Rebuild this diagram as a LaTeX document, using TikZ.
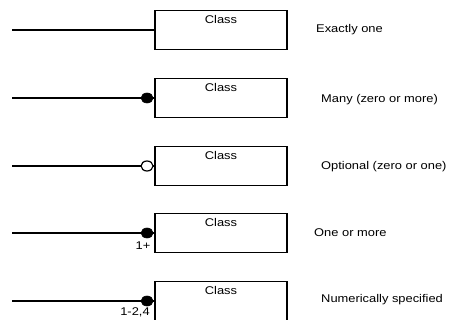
\documentclass[tikz,border=0pt]{standalone}
\usepackage{fontspec}
\setmainfont{Liberation Sans}
\usetikzlibrary{calc,shapes.geometric}
\tikzset{
  clsbox/.style={draw, line width=1.9pt, minimum width=132pt, minimum height=39pt, inner sep=0pt},
  clstxt/.style={inner sep=0pt, font=\fontsize{11.2}{12}\selectfont},
  desc/.style={inner sep=0pt, anchor=west, font=\fontsize{11.2}{12}\selectfont},
  mult/.style={inner sep=0pt, font=\fontsize{11.2}{12}\selectfont},
  conn/.style={line width=1.6pt},
  fdot/.style={ellipse, fill=black, draw=black, line width=0.6pt, minimum width=12pt, minimum height=10pt, inner sep=0pt},
  odot/.style={ellipse, fill=white, draw=black, line width=1.2pt, minimum width=12pt, minimum height=10pt, inner sep=0pt}
}
\newcommand{\wid}[1]{\scalebox{1.15}[1]{#1}}
\begin{document}
\begin{tikzpicture}[x=1pt,y=-1pt]
\useasboundingbox (0,0) rectangle (453,320);
% boxes
\node[clsbox] (b1) at (221,30) {};
\node[clsbox] (b2) at (221,98) {};
\node[clsbox] (b3) at (221,166) {};
\node[clsbox] (b4) at (221,233) {};
\node[clsbox] (b5) at (221,301) {};
\foreach \i in {1,...,5} {
  \node[clstxt] (t\i) at ($(b\i.north)+(0,10)$) {\wid{Class}};
}
% start points
\coordinate (s1) at (12,30);
\coordinate (s2) at (12,98);
\coordinate (s3) at (12,166);
\coordinate (s4) at (12,233);
\coordinate (s5) at (12,301);
\foreach \i in {1,...,5} {
  \draw[conn] (s\i) -- (b\i.west);
}
% multiplicity ends
\node[fdot] (d2) at ($(b2.west)+(-7,0)$) {};
\node[odot] (d3) at ($(b3.west)+(-7,0)$) {};
\node[fdot] (d4) at ($(b4.west)+(-7,0)$) {};
\node[fdot] (d5) at ($(b5.west)+(-7,0)$) {};
\node[mult] (m4) at (143,246) {\wid{1+}};
\node[mult] (m5) at (135,312) {\wid{1-2,4}};
% descriptions
\node[desc] (e1) at (316,30) {\wid{Exactly one}};
\node[desc] (e2) at (321,100) {\wid{Many (zero or more)}};
\node[desc] (e3) at (321,167) {\wid{Optional (zero or one)}};
\node[desc] (e4) at (314,233) {\wid{One or more}};
\node[desc] (e5) at (321,300) {\wid{Numerically specified}};
\end{tikzpicture}
\end{document}
